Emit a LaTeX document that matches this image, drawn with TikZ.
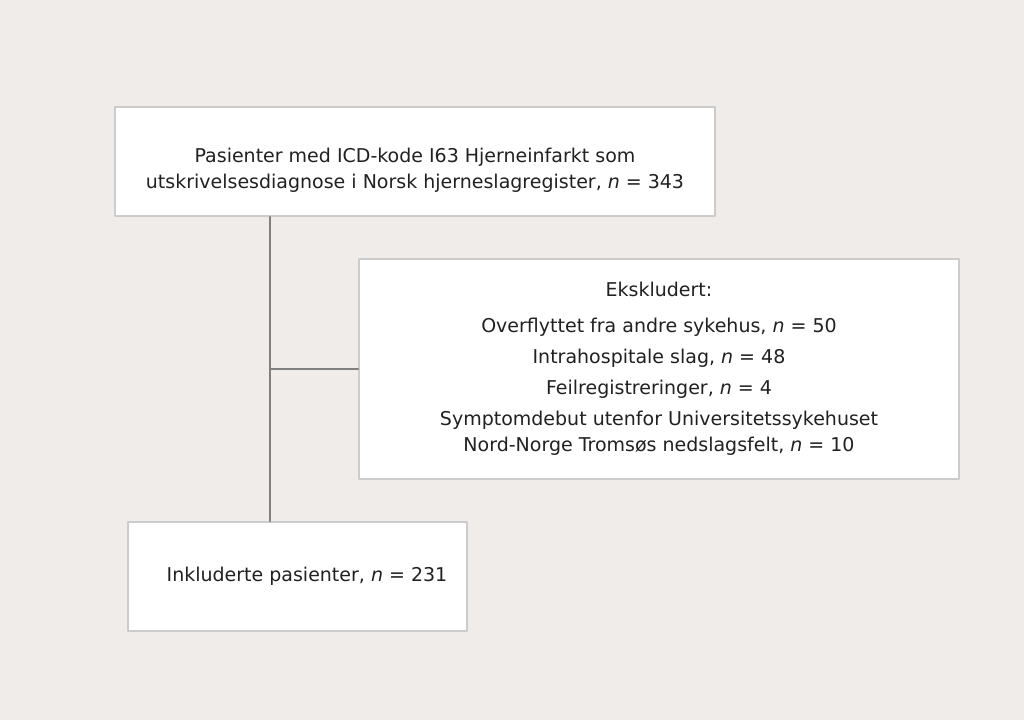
\documentclass[tikz,border=0pt]{standalone}
\usepackage{fontspec}
\setmainfont{DejaVu Sans}
\usepackage{tikz}
\definecolor{paper}{rgb}{0.941,0.925,0.918}
\definecolor{frame}{rgb}{0.80,0.80,0.80}
\definecolor{stem}{rgb}{0.50,0.50,0.50}
\definecolor{ink}{rgb}{0.13,0.13,0.13}
\tikzset{box/.style={draw=frame, line width=1.5pt, fill=white, text=ink, align=center, inner sep=0pt, font=\fontsize{19pt}{26pt}\selectfont},
	boxtext/.style={text=ink, align=center, inner sep=0pt, font=\fontsize{19pt}{26pt}\selectfont},
	stemline/.style={draw=stem, line width=1.5pt}}

\begin{document}
\begin{tikzpicture}[line cap=round,line join=round,x=1pt,y=-1pt]
	\fill [paper] (0,0) rectangle (1024,720);
	\useasboundingbox (0,0) rectangle (1024,720);
	% registry
	\node [box, minimum width=600pt, minimum height=109pt] (reg) at (415,161.5) {};
	\node [boxtext] (regtext) at ([yshift=-9pt]reg.center) {Pasienter med ICD-kode I63 Hjerneinfarkt som\\utskrivelsesdiagnose i Norsk hjerneslagregister, \textit{n} = 343};
	% excluded
	\node [box, minimum width=600pt, minimum height=220pt] (excl) at (659,369) {Ekskludert:\\[10pt]Overflyttet fra andre sykehus, \textit{n} = 50\\[5pt]Intrahospitale slag, \textit{n} = 48\\[5pt]Feilregistreringer, \textit{n} = 4\\[5pt]Symptomdebut utenfor Universitetssykehuset\\Nord-Norge Tromsøs nedslagsfelt, \textit{n} = 10};
	% included
	\node [box, minimum width=339pt, minimum height=109pt] (incl) at (297.5,576.5) {\hspace*{19pt}Inkluderte pasienter, \textit{n} = 231};

	\coordinate (split) at (270,369);
	\draw [stemline] (reg.south -| split) -- (incl.north -| split);
	\draw [stemline] (split) -- (excl.west);
\end{tikzpicture}
\end{document}
